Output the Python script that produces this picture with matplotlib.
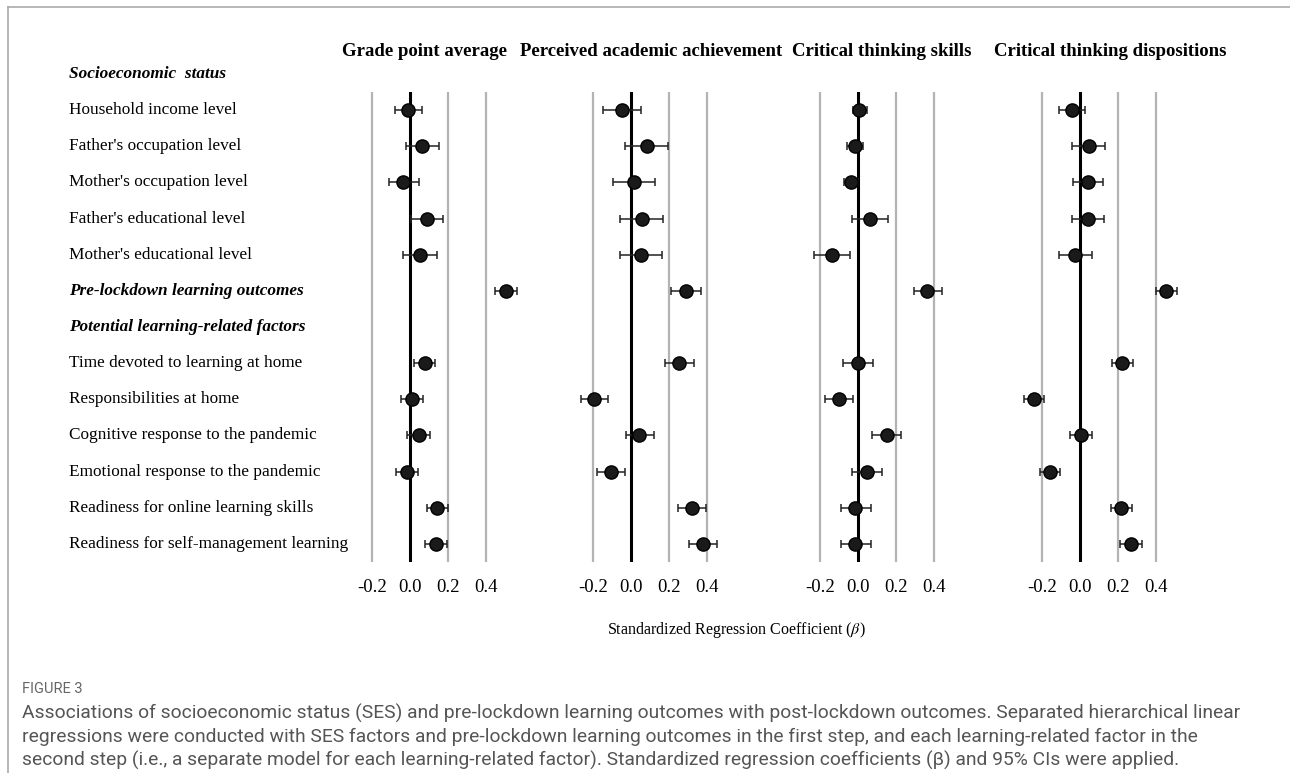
import matplotlib
matplotlib.use("Agg")
import numpy as np
import matplotlib.pyplot as plt
from matplotlib.transforms import blended_transform_factory
from matplotlib.lines import Line2D

plt.rcParams["mathtext.fontset"] = "stix"

# rows of the forest plot, top to bottom (0 = first header)
row_labels = ["Socioeconomic  status",
              "Household income level",
              "Father's occupation level",
              "Mother's occupation level",
              "Father's educational level",
              "Mother's educational level",
              "Pre-lockdown learning outcomes",
              "Potential learning-related factors",
              "Time devoted to learning at home",
              "Responsibilities at home",
              "Cognitive response to the pandemic",
              "Emotional response to the pandemic",
              "Readiness for online learning skills",
              "Readiness for self-management learning"]
header_rows = [0, 6, 7]
data_rows = [1, 2, 3, 4, 5, 6, 8, 9, 10, 11, 12, 13]

outcomes = ["Grade point average", "Perceived academic achievement",
            "Critical thinking skills", "Critical thinking dispositions"]

# standardized betas with 95% CI, one list per outcome (order of data_rows)
gpa_beta = [-0.01, 0.064, -0.035, 0.087, 0.052, 0.506, 0.078, 0.012, 0.045, -0.016, 0.144, 0.136]
gpa_lo = [-0.078, -0.023, -0.108, 0.003, -0.035, 0.449, 0.021, -0.047, -0.014, -0.075, 0.087, 0.077]
gpa_hi = [0.061, 0.151, 0.05, 0.174, 0.144, 0.565, 0.134, 0.07, 0.103, 0.042, 0.2, 0.195]

paa_beta = [-0.049, 0.082, 0.016, 0.058, 0.054, 0.288, 0.252, -0.194, 0.044, -0.107, 0.32, 0.378]
paa_lo = [-0.149, -0.031, -0.094, -0.058, -0.059, 0.213, 0.178, -0.264, -0.028, -0.18, 0.246, 0.306]
paa_hi = [0.052, 0.196, 0.128, 0.171, 0.164, 0.369, 0.329, -0.122, 0.121, -0.03, 0.397, 0.451]

cts_beta = [0.007, -0.014, -0.037, 0.062, -0.138, 0.363, 0.002, -0.1, 0.15, 0.048, -0.014, -0.014]
cts_lo = [-0.028, -0.06, -0.076, -0.034, -0.231, 0.293, -0.078, -0.175, 0.076, -0.03, -0.092, -0.092]
cts_hi = [0.046, 0.028, 0.002, 0.16, -0.042, 0.443, 0.078, -0.026, 0.224, 0.125, 0.069, 0.069]

ctd_beta = [-0.04, 0.046, 0.04, 0.04, -0.026, 0.454, 0.223, -0.242, 0.005, -0.158, 0.218, 0.267]
ctd_lo = [-0.109, -0.04, -0.037, -0.044, -0.111, 0.398, 0.168, -0.296, -0.051, -0.212, 0.161, 0.212]
ctd_hi = [0.028, 0.132, 0.121, 0.126, 0.061, 0.509, 0.281, -0.188, 0.063, -0.104, 0.275, 0.325]

xticks = [-0.2, 0.0, 0.2, 0.4]
xtick_labels = ["-0.2", "0.0", "0.2", "0.4"]

caption_head = "FIGURE 3"
caption = ["Associations of socioeconomic status (SES) and pre-lockdown learning outcomes with post-lockdown outcomes. Separated hierarchical linear",
           "regressions were conducted with SES factors and pre-lockdown learning outcomes in the first step, and each learning-related factor in the",
           "second step (i.e., a separate model for each learning-related factor). Standardized regression coefficients (\u03b2) and 95% CIs were applied."]

serif = "Liberation Serif"
cap_font = "Roboto"

W, H = 1290, 773
fig = plt.figure(figsize=(W / 100, H / 100), dpi=100)


def fx(x):
    return x / W


def fy(y):
    return 1 - y / H


series = [(gpa_beta, gpa_lo, gpa_hi), (paa_beta, paa_lo, paa_hi),
          (cts_beta, cts_lo, cts_hi), (ctd_beta, ctd_lo, ctd_hi)]
zero_px = [410, 631, 858, 1080]
title_px = [425, 651, 882, 1110]
scale = 190.0  # px per unit of beta
ax_top, ax_bot = 92, 562

axes = []
for i, (b, lo, hi) in enumerate(series):
    left = zero_px[i] - 0.3 * scale
    ax = fig.add_axes([fx(left), fy(ax_bot), 0.9 * scale / W, (ax_bot - ax_top) / H])
    ax.set_xlim(-0.3, 0.6)
    ax.set_ylim(13.5, 0.5)
    for t in [-0.2, 0.2, 0.4]:
        ax.axvline(t, color="#b3b3b3", lw=1.6, zorder=1)
    ax.axvline(0, color="black", lw=2.2, zorder=2)
    b = np.array(b)
    err = np.vstack([b - np.array(lo), np.array(hi) - b])
    ax.errorbar(b, data_rows, xerr=err, fmt="o", mfc="#1a1a1a", mec="black", ms=9.5,
                ecolor="#222222", elinewidth=1.1, capsize=3, capthick=1.1, zorder=3)
    ax.set_xticks(xticks)
    ax.set_xticklabels(xtick_labels, fontfamily=serif, fontsize=13.5)
    ax.tick_params(axis="x", length=0, pad=12)
    ax.set_yticks([])
    for s in ax.spines.values():
        s.set_visible(False)
    ax.patch.set_alpha(0)
    fig.text(fx(title_px[i]), fy(51), outcomes[i], ha="center", va="center",
             fontfamily=serif, fontweight="bold", fontsize=13.5)
    axes.append(ax)

# row labels on the left
tr = blended_transform_factory(fig.transFigure, axes[0].transData)
for r, lab in enumerate(row_labels):
    if r in header_rows:
        axes[0].text(fx(69), r, lab, transform=tr, ha="left", va="center",
                     fontfamily=serif, fontsize=12.4, fontweight="bold",
                     fontstyle="italic", clip_on=False)
    else:
        axes[0].text(fx(69), r, lab, transform=tr, ha="left", va="center",
                     fontfamily=serif, fontsize=12.4, clip_on=False)

fig.text(fx(736), fy(630), "Standardized Regression Coefficient ($\\beta$)",
         ha="center", va="center", fontfamily=serif, fontsize=11.5)

# caption
fig.text(fx(22), fy(689), caption_head, ha="left", va="center",
         fontfamily=cap_font, fontsize=10.5, color="#666666")
for k, line in enumerate(caption):
    fig.text(fx(22), fy(713 + 23.5 * k), line, ha="left", va="center",
             fontfamily=cap_font, fontsize=13.9, color="#555555")

# frame
fig.add_artist(Line2D([fx(7.5), fx(7.5)], [0, fy(7)], color="#aaaaaa", lw=1.2))
fig.add_artist(Line2D([fx(7.5), 1], [fy(7), fy(7)], color="#aaaaaa", lw=1.2))

fig.savefig("out.png", dpi=100)
